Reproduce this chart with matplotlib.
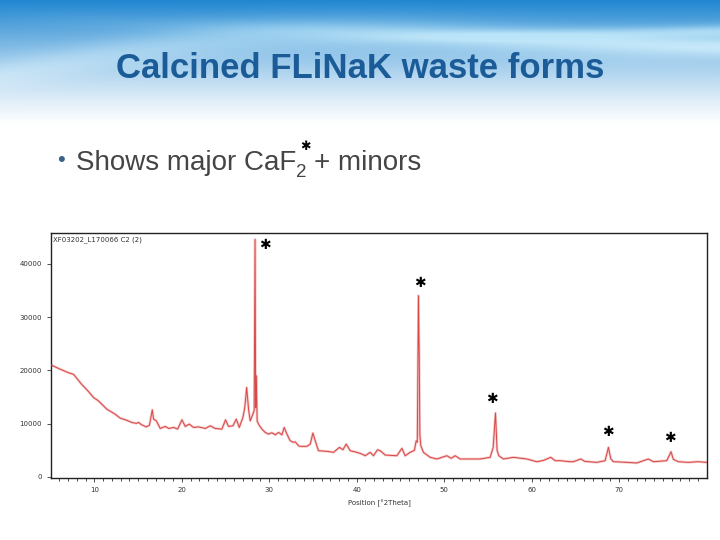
import numpy as np
import matplotlib
matplotlib.use("Agg")
import matplotlib.pyplot as plt

# ---- data (2Theta, counts) ----
two_theta = [5.1, 6.0, 7.0, 7.63, 8.55, 9.3, 9.92, 10.46, 11.45, 12.37, 12.97, 13.6,
             14.3, 14.8, 15.06, 15.4, 15.94, 16.3, 16.63, 16.78, 17.09, 17.54, 18.11,
             18.5, 19.07, 19.52, 20.02, 20.4, 20.86, 21.35, 21.92, 22.69, 23.26, 23.83,
             24.59, 25.0, 25.35, 25.85, 26.23, 26.57, 26.99, 27.2, 27.42, 27.65, 27.83,
             28.13, 28.28, 28.38, 28.45, 28.52, 28.62, 28.78, 29.16, 29.54, 29.92, 30.3,
             30.69, 31.07, 31.45, 31.71, 32.02, 32.4, 32.78, 32.97, 33.35, 33.54, 34.3,
             34.69, 34.99, 35.26, 35.63, 36.59, 37.35, 38.03, 38.42, 38.8, 39.26, 40.02,
             40.59, 40.97, 41.54, 41.92, 42.38, 42.69, 43.26, 44.59, 45.17, 45.54, 46.11,
             46.6, 46.8, 46.93, 47.06, 47.15, 47.22, 47.33, 47.63, 48.4, 49.17, 50.31,
             50.8, 51.26, 51.83, 52.97, 54.11, 55.26, 55.6, 55.87, 56.05, 56.25, 56.78,
             57.92, 59.45, 60.59, 61.35, 62.19, 62.69, 63.26, 64.4, 64.78, 65.62, 66.11,
             67.45, 68.4, 68.78, 69.05, 69.35, 70.88, 72.02, 73.35, 73.92, 75.45, 75.94,
             76.2, 76.76, 77.9, 79.05, 80.0]
counts = [21000, 20300, 19600, 19260, 17400, 16100, 14900, 14300, 12700, 11800, 11030,
          10700, 10230, 10050, 10230, 9800, 9400, 9700, 12590, 10850, 10530, 9100, 9480,
          9100, 9290, 8980, 10720, 9480, 9910, 9290, 9400, 9100, 9600, 9100,
          8980, 10720, 9480, 9600, 10850, 9290, 11160, 13000, 16800, 12500, 10530,
          11780, 12500, 44600, 13000, 19000, 10500, 9900, 8980, 8360, 8040, 8300,
          7910, 8360, 7900, 9290, 8040, 6790, 6490, 6600, 5850, 5740, 5740,
          6170, 8230, 6790, 4920, 4810, 4620, 5550, 5100, 6170, 4920, 4620,
          4300, 3980, 4620, 3980, 5100, 4920, 4110, 3980, 5370, 3980, 4620,
          5000, 6790, 6500, 34030, 22700, 8000, 5850, 4620, 3680, 3370, 3980,
          3500, 3980, 3370, 3370, 3370, 3680, 5500, 12000, 5000, 3980, 3370,
          3680, 3370, 2860, 3100, 3680, 3050, 3050, 2860, 2860, 3370, 2900,
          2740, 3050, 5550, 3400, 2860, 2740, 2620, 3370, 2860, 3050, 4730,
          3300, 2860, 2740, 2860, 2740]

marker_x = [29.54, 47.26, 55.5, 68.67, 75.83]
marker_y = [43570, 36460, 14710, 8470, 7240]

x_ticks = [10, 20, 30, 40, 50, 60, 70]
y_ticks = [0, 10000, 20000, 30000, 40000]

title = "Calcined FLiNaK waste forms"
sample_label = "XF03202_L170066 C2 (2)"
x_label = "Position [°2Theta]"

fig = plt.figure(figsize=(7.2, 5.4), dpi=100)

# ---- slide background ----
H, W = 540, 720
yy, xx = np.mgrid[0:H, 0:W].astype(float)
strength = np.clip(1 - yy / 125.0, 0, 1) ** 1.2
swoosh = np.exp(-((yy - (75 - 0.07 * xx - 20 * np.sin(xx / 160.0))) / 16.0) ** 2)
swoosh2 = np.exp(-((yy - (18 + 0.04 * xx)) / 9.0) ** 2) * (xx / W)
swoosh3 = np.exp(-((yy - (45 - 0.02 * xx)) / 6.0) ** 2) * np.clip((xx - 300) / 400, 0, 1)
deep = np.array([0.13, 0.53, 0.82])
light = np.array([0.60, 0.84, 0.96])
mix = np.clip(0.5 * swoosh + 0.55 * swoosh2 + 0.6 * swoosh3, 0, 1)[..., None]
col = deep * (1 - mix) + light * mix
img = 1 - strength[..., None] * (1 - col)
bg = fig.add_axes([0, 0, 1, 1], zorder=0)
bg.imshow(np.clip(img, 0, 1), extent=[0, W, H, 0], aspect='auto')
bg.set_xlim(0, W)
bg.set_ylim(H, 0)
bg.axis('off')

# ---- title and bullet ----
fig.text(360 / W, 1 - 68 / H, title, ha='center', va='center', fontsize=25,
         fontweight='bold', color='#1b5c98', family='Liberation Sans', zorder=5)

fig.text(57 / W, 1 - 161 / H, "•", ha='left', va='center', fontsize=16,
         color='#3a5f8a', family='Liberation Sans', zorder=5)
renderer = fig.canvas.get_renderer()
t1 = fig.text(76 / W, 1 - 170 / H, "Shows major CaF", ha='left', va='baseline',
              fontsize=20, color='#454545', family='Liberation Sans', zorder=5)
bb = t1.get_window_extent(renderer)
x_end = bb.x1 / W
t2 = fig.text(x_end, 1 - 177 / H, "2", ha='left', va='baseline', fontsize=13.5,
              color='#454545', family='Liberation Sans', zorder=5)
bb2 = t2.get_window_extent(renderer)
fig.text(bb2.x1 / W - 0.002, 1 - 146 / H, "✱", ha='center', va='center', fontsize=9,
         color='black', family='DejaVu Sans', zorder=5)
fig.text(bb2.x1 / W + 0.010, 1 - 170 / H, "+ minors", ha='left', va='baseline',
         fontsize=20, color='#454545', family='Liberation Sans', zorder=5)

# ---- chart ----
ax = fig.add_axes([51 / W, 1 - 478 / H, (707 - 51) / W, (478 - 233) / H], zorder=3)
ax.set_facecolor('white')
ax.plot(two_theta, counts, color='#f5c4c4', lw=1.8, zorder=2)
ax.plot(two_theta, counts, color='#d84848', lw=0.7, zorder=3)
ax.set_xlim(5.05, 80.05)
ax.set_ylim(-200, 45800)
ax.set_xticks(x_ticks)
ax.set_xticks(np.arange(6, 80, 1), minor=True)
ax.set_yticks(y_ticks)
ax.tick_params(axis='both', labelsize=5, colors='#333333', length=3, width=0.6,
               direction='out')
ax.tick_params(axis='x', which='minor', length=2, width=0.5)
for s in ax.spines.values():
    s.set_linewidth(1.0)
    s.set_color('#222222')
ax.set_xlabel(x_label, fontsize=5, color='#333333', labelpad=5)
ax.text(0.003, 0.985, sample_label, transform=ax.transAxes, ha='left', va='top',
        fontsize=5, color='#333333')
for mx, my in zip(marker_x, marker_y):
    ax.text(mx, my, "✱", ha='center', va='center', fontsize=10, color='black',
            family='DejaVu Sans', clip_on=False, zorder=6)

fig.savefig("out.png", dpi=100)
